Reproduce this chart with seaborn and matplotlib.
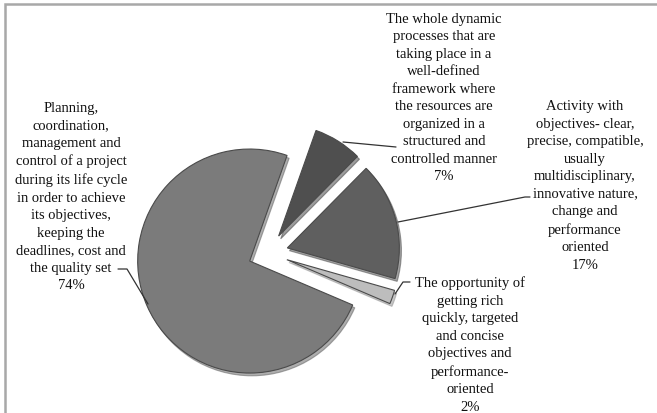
import matplotlib
matplotlib.use("Agg")
import matplotlib.pyplot as plt
import seaborn as sns
from matplotlib.patches import Rectangle

# datos del grafico (orden horario desde la porcion superior)
descripciones = [
    "The whole dynamic\nprocesses that are\ntaking place in a\nwell-defined\nframework where\nthe resources are\norganized in a\nstructured and\ncontrolled manner",
    "Activity with\nobjectives- clear,\nprecise, compatible,\nusually\nmultidisciplinary,\ninnovative nature,\nchange and\nperformance\noriented",
    "The opportunity of\ngetting rich\nquickly, targeted\nand concise\nobjectives and\nperformance-\noriented",
    "Planning,\ncoordination,\nmanagement and\ncontrol of a project\nduring its life cycle\nin order to achieve\nits objectives,\nkeeping the\ndeadlines, cost and\nthe quality set",
]
porcentajes = [7, 17, 2, 74]
colores = ['#4f4f4f', '#5f5f5f', '#bdbdbd', '#7b7b7b']

sns.set_theme(style="white")
plt.rcParams['font.family'] = ['Liberation Serif', 'DejaVu Serif']

W, H = 657, 414
fig = plt.figure(figsize=(W / 100, H / 100), dpi=100)
ax = fig.add_axes([0, 0, 1, 1])
ax.set_xlim(0, W)
ax.set_ylim(0, H)
ax.set_aspect('equal')
ax.axis('off')


def fy(y):
    # coordenadas de pixel (y hacia abajo) -> datos
    return H - y


# marco del area del grafico
ax.add_patch(Rectangle((4.5, -50), W + 50, fy(4.5) + 50, fill=False,
                       edgecolor='#a8a8a8', lw=1.8, zorder=0))

# explode va en unidades de datos (pixeles), no en fraccion del radio
wedges, _ = ax.pie(porcentajes, colors=colores, startangle=70.5, counterclock=False,
                   explode=[20] * len(porcentajes), radius=112, center=(268, fy(254)),
                   wedgeprops=dict(edgecolor='#4a4a4a', linewidth=0.8),
                   shadow=dict(ox=1.5, oy=-2, shade=0.25))
ax.set_xlim(0, W)
ax.set_ylim(0, H)

# etiquetas
pos_etiquetas = [(444, 98), (585, 186), (470, 345), (71, 197)]
for desc, p, (x, y) in zip(descripciones, porcentajes, pos_etiquetas):
    ax.text(x, fy(y), f"{desc}\n{p}%", ha='center', va='center', multialignment='center',
            fontsize=10.5, linespacing=1.45, color='#111111')

# lineas guia
guias = [
    [(343, 143), (396, 148)],
    [(398, 223), (525, 198), (530, 198)],
    [(395, 295), (403, 283), (410, 283)],
    [(148, 305), (127, 270), (118, 270)],
]
for g in guias:
    xs = [pt[0] for pt in g]
    ys = [fy(pt[1]) for pt in g]
    ax.plot(xs, ys, color='#333333', lw=0.9)

fig.savefig('out.png', dpi=100)
